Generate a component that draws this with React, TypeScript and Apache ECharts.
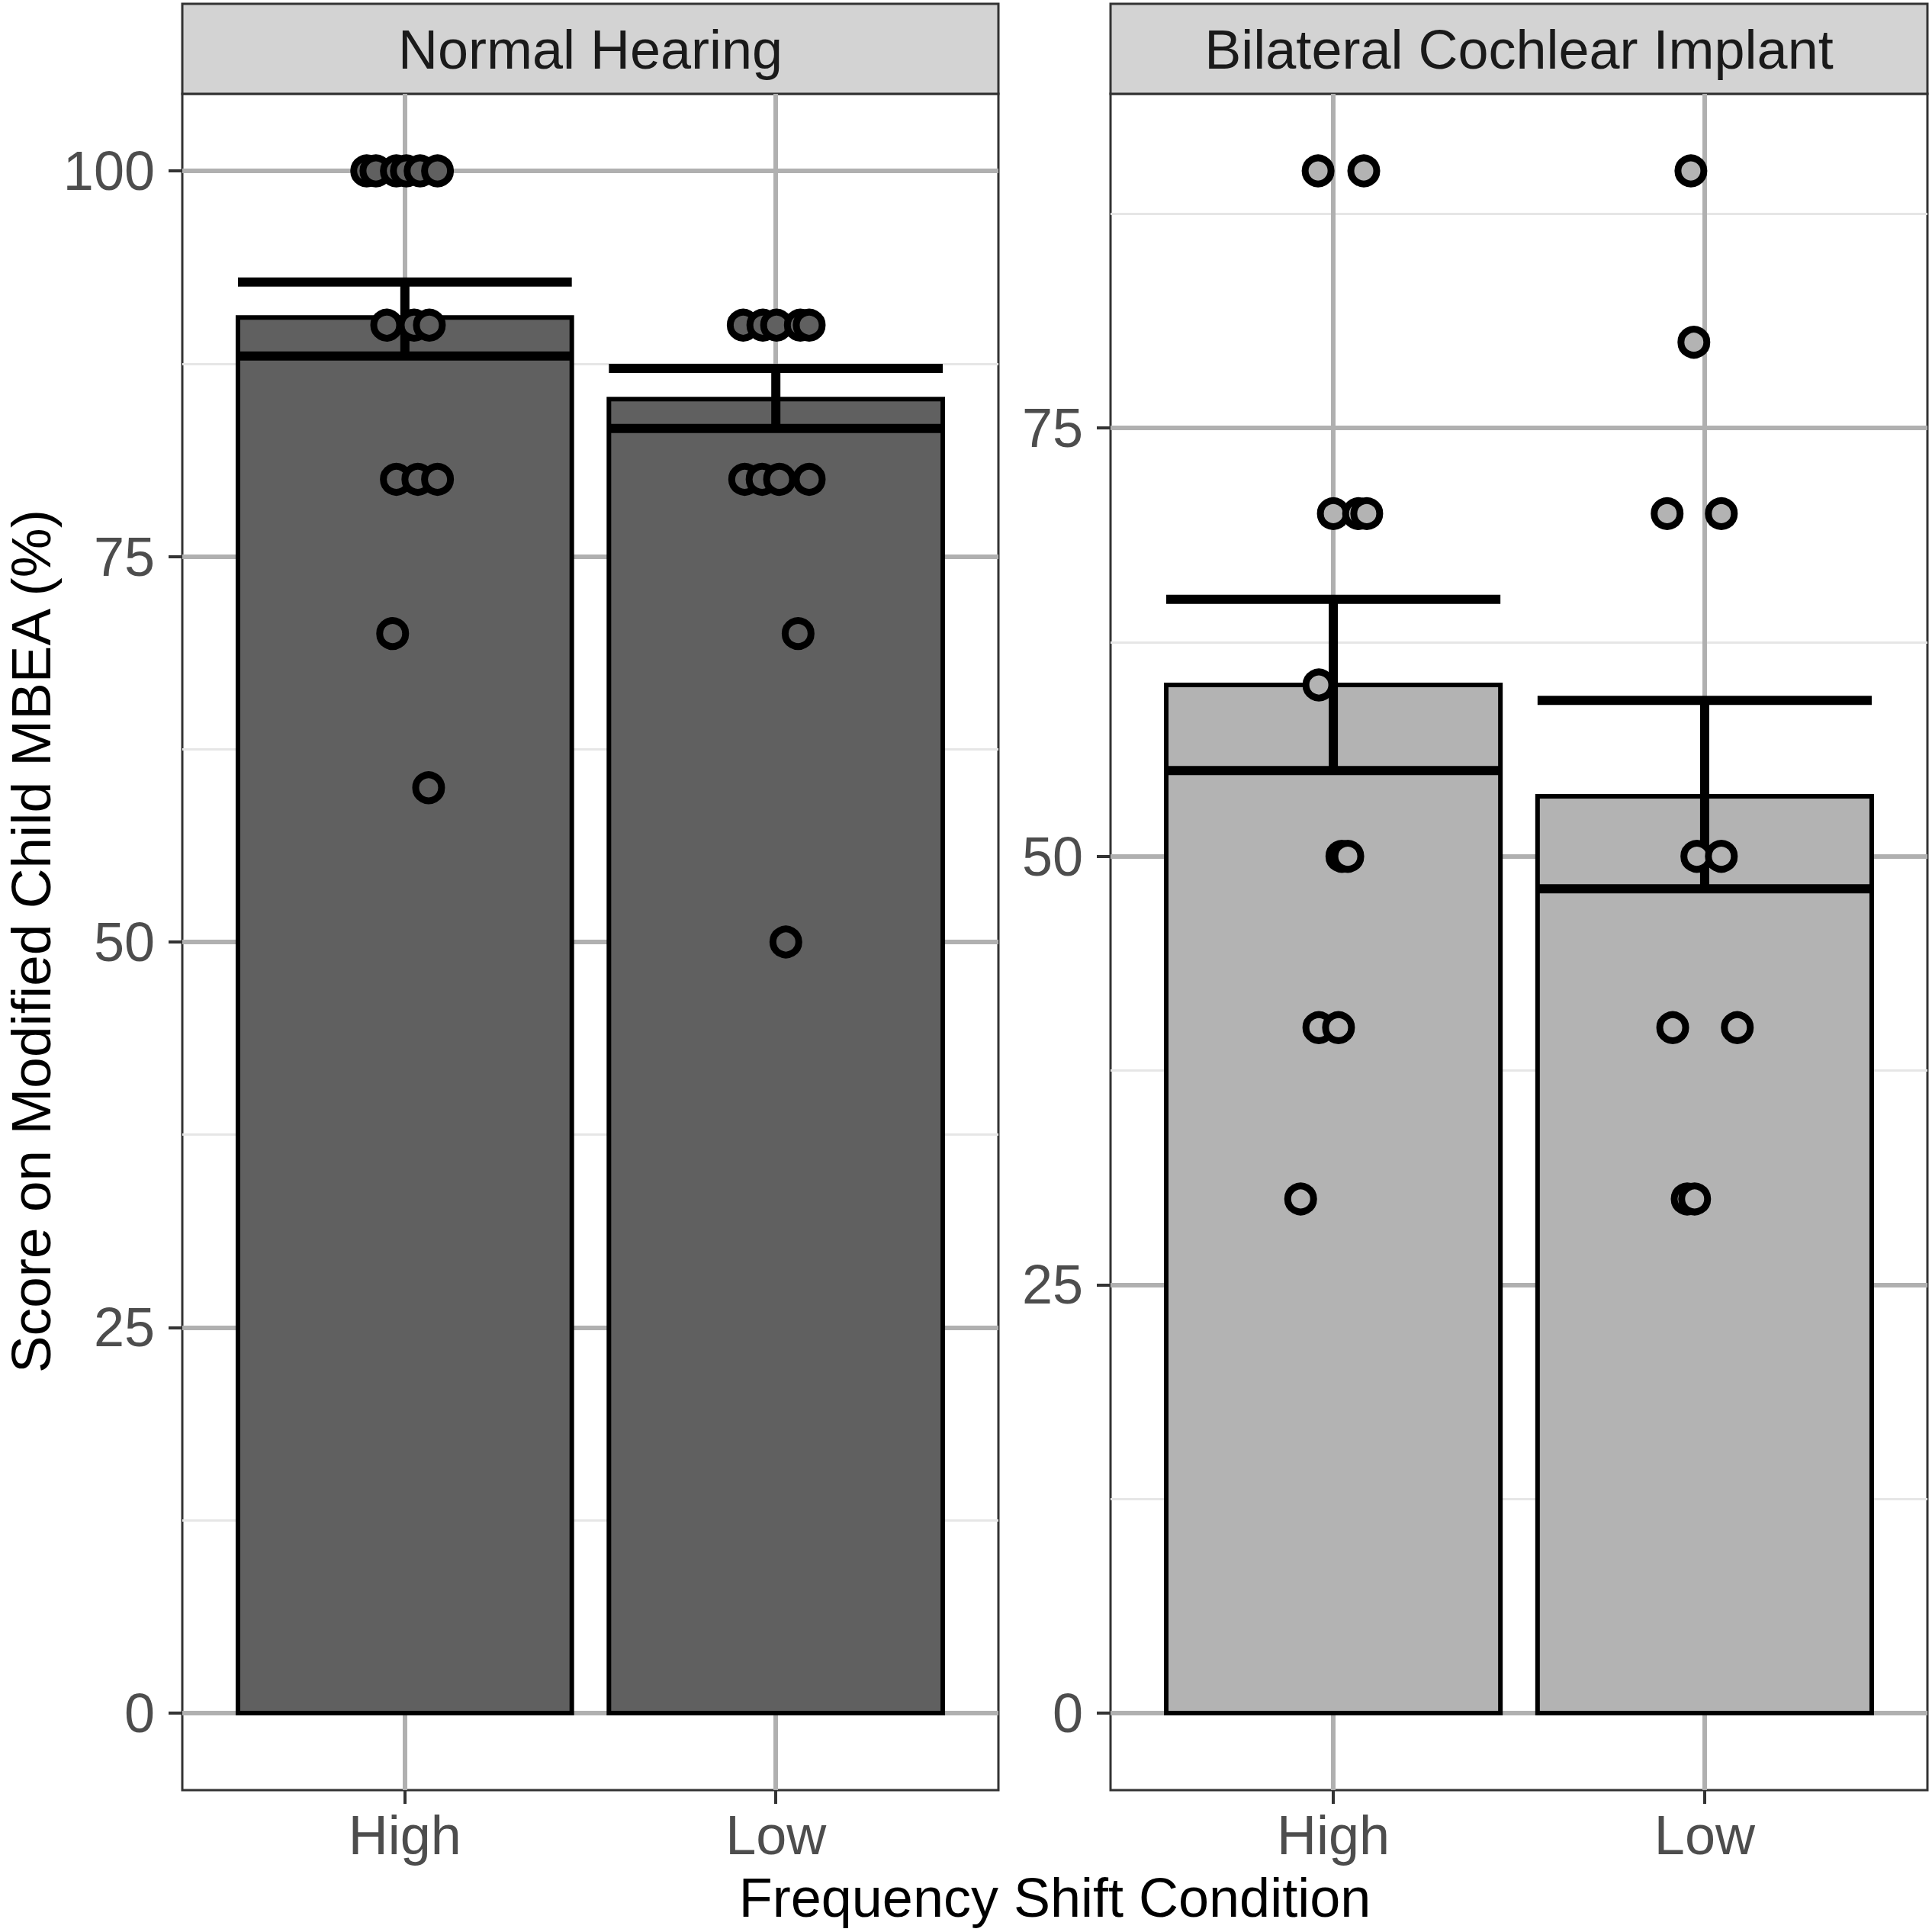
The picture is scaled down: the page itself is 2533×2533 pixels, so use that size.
import React, { useEffect, useRef } from "react";
import * as echarts from "echarts";

// ---- data ----
const conditions = ["High", "Low"];
const panels = ["Normal Hearing", "Bilateral Cochlear Implant"];

// Normal Hearing summary (mean, lower, upper of error bar)
const nhMeans = [90.5, 85.2];
const nhLower = [88.0, 83.3];
const nhUpper = [92.8, 87.2];

// Bilateral Cochlear Implant summary
const ciMeans = [60.0, 53.5];
const ciLower = [55.0, 48.1];
const ciUpper = [65.0, 59.1];

// jittered individual scores: [x position (1 = High, 2 = Low, jittered), score]
const nhPoints = [
  [0.897, 100], [0.922, 100], [0.977, 100], [1.004, 100], [1.041, 100], [1.088, 100],
  [0.951, 90], [1.025, 90], [1.066, 90],
  [0.977, 80], [1.035, 80], [1.088, 80],
  [0.967, 70],
  [1.064, 60],
  [1.912, 90], [1.965, 90], [2.002, 90], [2.066, 90], [2.090, 90],
  [1.916, 80], [1.963, 80], [2.010, 80], [2.090, 80],
  [2.060, 70],
  [2.027, 50],
];
const ciPoints = [
  [0.959, 90], [1.082, 90],
  [1.0, 70], [1.068, 70], [1.09, 70],
  [0.961, 60],
  [1.023, 50], [1.039, 50],
  [0.961, 40], [1.014, 40],
  [0.912, 30],
  [1.963, 90],
  [1.971, 80],
  [1.899, 70], [2.045, 70],
  [1.979, 50], [2.045, 50],
  [1.914, 40], [2.088, 40],
  [1.953, 30], [1.973, 30],
];

const nhMajorTicks = [0, 25, 50, 75, 100];
const nhMinorTicks = [12.5, 37.5, 62.5, 87.5];
const ciMajorTicks = [0, 25, 50, 75];
const ciMinorTicks = [12.5, 37.5, 62.5, 87.5];
const nhRange = [-5, 105];
const ciRange = [-4.5, 94.5];
const xRange = [0.4, 2.6];
const xTicks = [1, 2];

const FONT = "Liberation Sans";
const FS = 72;
const DARK_FILL = "#606060";
const LIGHT_FILL = "#b3b3b3";
const HALF = 0.45;
const GRID_MAJOR = "#b0b0b0";

const gridsPx = [
  { left: 239, top: 123, width: 1070, height: 2224 },
  { left: 1456, top: 123, width: 1071, height: 2224 },
];

function App() {
  const ref = useRef<HTMLDivElement>(null);

  useEffect(() => {
    if (!ref.current) return;
    const chart = echarts.init(ref.current, undefined, { renderer: "svg" });

    const xAxisFor = (gridIndex: number) => ({
      type: "value",
      gridIndex,
      min: xRange[0],
      max: xRange[1],
      axisLine: { show: false, onZero: false },
      axisTick: {
        show: true,
        customValues: xTicks,
        length: 18,
        lineStyle: { color: "#333333", width: 4 },
      },
      axisLabel: {
        customValues: xTicks,
        margin: 23,
        color: "#4d4d4d",
        fontSize: FS,
        fontFamily: FONT,
        formatter: (v: number) => conditions[Math.round(v) - 1],
      },
      splitLine: { show: true, lineStyle: { color: GRID_MAJOR, width: 6 } },
    });

    const minorY = (gridIndex: number, range: number[], ticks: number[]) => ({
      type: "value",
      gridIndex,
      min: range[0],
      max: range[1],
      position: "left",
      axisLine: { show: false, onZero: false },
      axisTick: { show: false, customValues: ticks },
      axisLabel: { show: false, customValues: ticks },
      splitLine: { show: true, lineStyle: { color: "#e6e6e6", width: 3 } },
    });

    const majorY = (gridIndex: number, range: number[], ticks: number[]) => ({
      type: "value",
      gridIndex,
      min: range[0],
      max: range[1],
      position: "left",
      axisLine: { show: false, onZero: false },
      axisTick: {
        show: true,
        customValues: ticks,
        length: 18,
        lineStyle: { color: "#333333", width: 4 },
      },
      axisLabel: {
        customValues: ticks,
        margin: 36,
        color: "#4d4d4d",
        fontSize: FS,
        fontFamily: FONT,
      },
      splitLine: { show: true, lineStyle: { color: GRID_MAJOR, width: 6 } },
    });

    const barSeries = (xi: number, yi: number, means: number[], fill: string) => ({
      type: "custom",
      xAxisIndex: xi,
      yAxisIndex: yi,
      data: means.map((m, i) => [i + 1, m]),
      renderItem: (_p: any, api: any) => {
        const x = api.value(0);
        const y = api.value(1);
        const a = api.coord([x - HALF, y]);
        const b = api.coord([x + HALF, 0]);
        return {
          type: "rect",
          shape: { x: a[0], y: a[1], width: b[0] - a[0], height: b[1] - a[1] },
          style: { fill, stroke: "#000000", lineWidth: 6 },
        };
      },
    });

    const errSeries = (xi: number, yi: number, lo: number[], hi: number[]) => ({
      type: "custom",
      xAxisIndex: xi,
      yAxisIndex: yi,
      data: lo.map((l, i) => [i + 1, l, hi[i]]),
      encode: { x: 0, y: [1, 2] },
      renderItem: (_p: any, api: any) => {
        const x = api.value(0);
        const l = api.value(1);
        const h = api.value(2);
        const tl = api.coord([x - HALF, h]);
        const tr = api.coord([x + HALF, h]);
        const bl = api.coord([x - HALF, l]);
        const br = api.coord([x + HALF, l]);
        const mt = api.coord([x, h]);
        const mb = api.coord([x, l]);
        const st = { stroke: "#000000", lineWidth: 12, lineCap: "butt" };
        return {
          type: "group",
          children: [
            { type: "line", shape: { x1: mt[0], y1: mt[1], x2: mb[0], y2: mb[1] }, style: st },
            { type: "line", shape: { x1: tl[0], y1: tl[1], x2: tr[0], y2: tr[1] }, style: st },
            { type: "line", shape: { x1: bl[0], y1: bl[1], x2: br[0], y2: br[1] }, style: st },
          ],
        };
      },
    });

    const pointSeries = (xi: number, yi: number, pts: number[][], fill: string) => ({
      type: "scatter",
      xAxisIndex: xi,
      yAxisIndex: yi,
      data: pts,
      symbol: "circle",
      symbolSize: 34,
      itemStyle: { color: fill, borderColor: "#000000", borderWidth: 9, opacity: 1 },
      emphasis: { disabled: true },
    });

    const strip = (g: any, label: string) => [
      {
        type: "rect",
        shape: { x: g.left, y: 5, width: g.width, height: g.top - 5 },
        style: { fill: "#d3d3d3", stroke: "#333333", lineWidth: 3 },
      },
      {
        type: "text",
        x: g.left + g.width / 2,
        y: 65,
        style: {
          text: label,
          fontSize: FS,
          fontFamily: FONT,
          fill: "#1a1a1a",
          align: "center",
          verticalAlign: "middle",
        },
      },
    ];

    chart.setOption({
      animation: false,
      backgroundColor: "#ffffff",
      grid: gridsPx.map((g) => ({
        ...g,
        show: true,
        backgroundColor: "#ffffff",
        borderColor: "#333333",
        borderWidth: 3,
        containLabel: false,
      })),
      xAxis: [xAxisFor(0), xAxisFor(1)],
      yAxis: [
        minorY(0, nhRange, nhMinorTicks),
        majorY(0, nhRange, nhMajorTicks),
        minorY(1, ciRange, ciMinorTicks),
        majorY(1, ciRange, ciMajorTicks),
      ],
      series: [
        barSeries(0, 1, nhMeans, DARK_FILL),
        errSeries(0, 1, nhLower, nhUpper),
        pointSeries(0, 1, nhPoints, DARK_FILL),
        barSeries(1, 3, ciMeans, LIGHT_FILL),
        errSeries(1, 3, ciLower, ciUpper),
        pointSeries(1, 3, ciPoints, LIGHT_FILL),
      ],
      graphic: [
        ...strip(gridsPx[0], panels[0]),
        ...strip(gridsPx[1], panels[1]),
        {
          type: "text",
          x: 1383,
          y: 2488,
          style: {
            text: "Frequency Shift Condition",
            fontSize: FS,
            fontFamily: FONT,
            fill: "#000000",
            align: "center",
            verticalAlign: "middle",
          },
        },
        {
          type: "text",
          x: 40,
          y: 1234,
          rotation: Math.PI / 2,
          style: {
            text: "Score on Modified Child MBEA (%)",
            fontSize: 73,
            fontFamily: FONT,
            fill: "#000000",
            align: "center",
            verticalAlign: "middle",
          },
        },
      ],
    });

    return () => chart.dispose();
  }, []);

  return (
    <div
      ref={ref}
      style={{ position: "absolute", left: 0, top: 0, width: 2533, height: 2533, background: "#fff" }}
    />
  );
}

export default App;
